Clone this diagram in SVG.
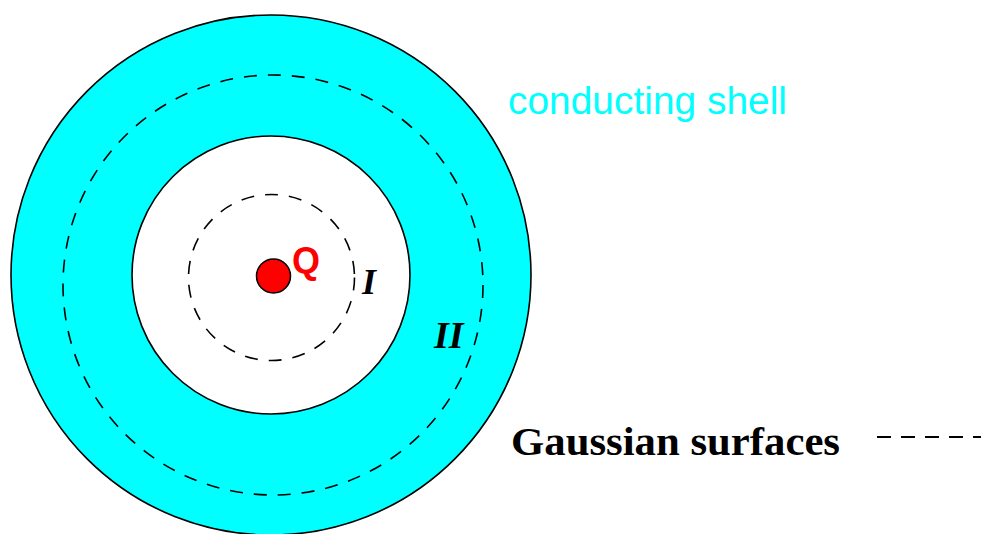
<svg xmlns="http://www.w3.org/2000/svg" width="981" height="534" viewBox="0 0 981 534">
<style>
.dash{fill:none;stroke:#000;stroke-width:1.6;stroke-dasharray:13 11}
.roman{font-family:"Liberation Serif",serif;font-weight:bold;fill:#000}
</style>
<rect width="981" height="534" fill="#fff"/>
<g id="shell">
<circle cx="271" cy="275" r="260" fill="#00ffff" stroke="#000" stroke-width="1.6"/>
<circle cx="271" cy="275" r="139" fill="#fff" stroke="#000" stroke-width="1.6"/>
</g>
<g id="gaussian-surfaces">
<circle class="dash" cx="273" cy="285" r="210"/>
<circle class="dash" cx="271.5" cy="277.5" r="83"/>
</g>
<g id="charge">
<circle cx="273.5" cy="276" r="17" fill="#ff0000" stroke="#000" stroke-width="1.5"/>
<text x="292" y="273" font-family="Liberation Sans,sans-serif" font-weight="bold" font-size="36" fill="#ff0000">Q</text>
</g>
<g id="labels">
<text class="roman" x="362" y="294" font-size="36" font-style="italic">I</text>
<text class="roman" x="434" y="348" font-size="38" font-style="italic">II</text>
<text x="508" y="114" font-family="Liberation Sans,sans-serif" font-size="38" fill="#00ffff" textLength="279" lengthAdjust="spacingAndGlyphs">conducting shell</text>
<text class="roman" x="511" y="455" font-size="40" textLength="329" lengthAdjust="spacingAndGlyphs">Gaussian surfaces</text>
</g>
<g id="connectors">
<line x1="877" y1="437" x2="981" y2="437" stroke="#000" stroke-width="2" stroke-dasharray="14 10"/>
</g>
</svg>
